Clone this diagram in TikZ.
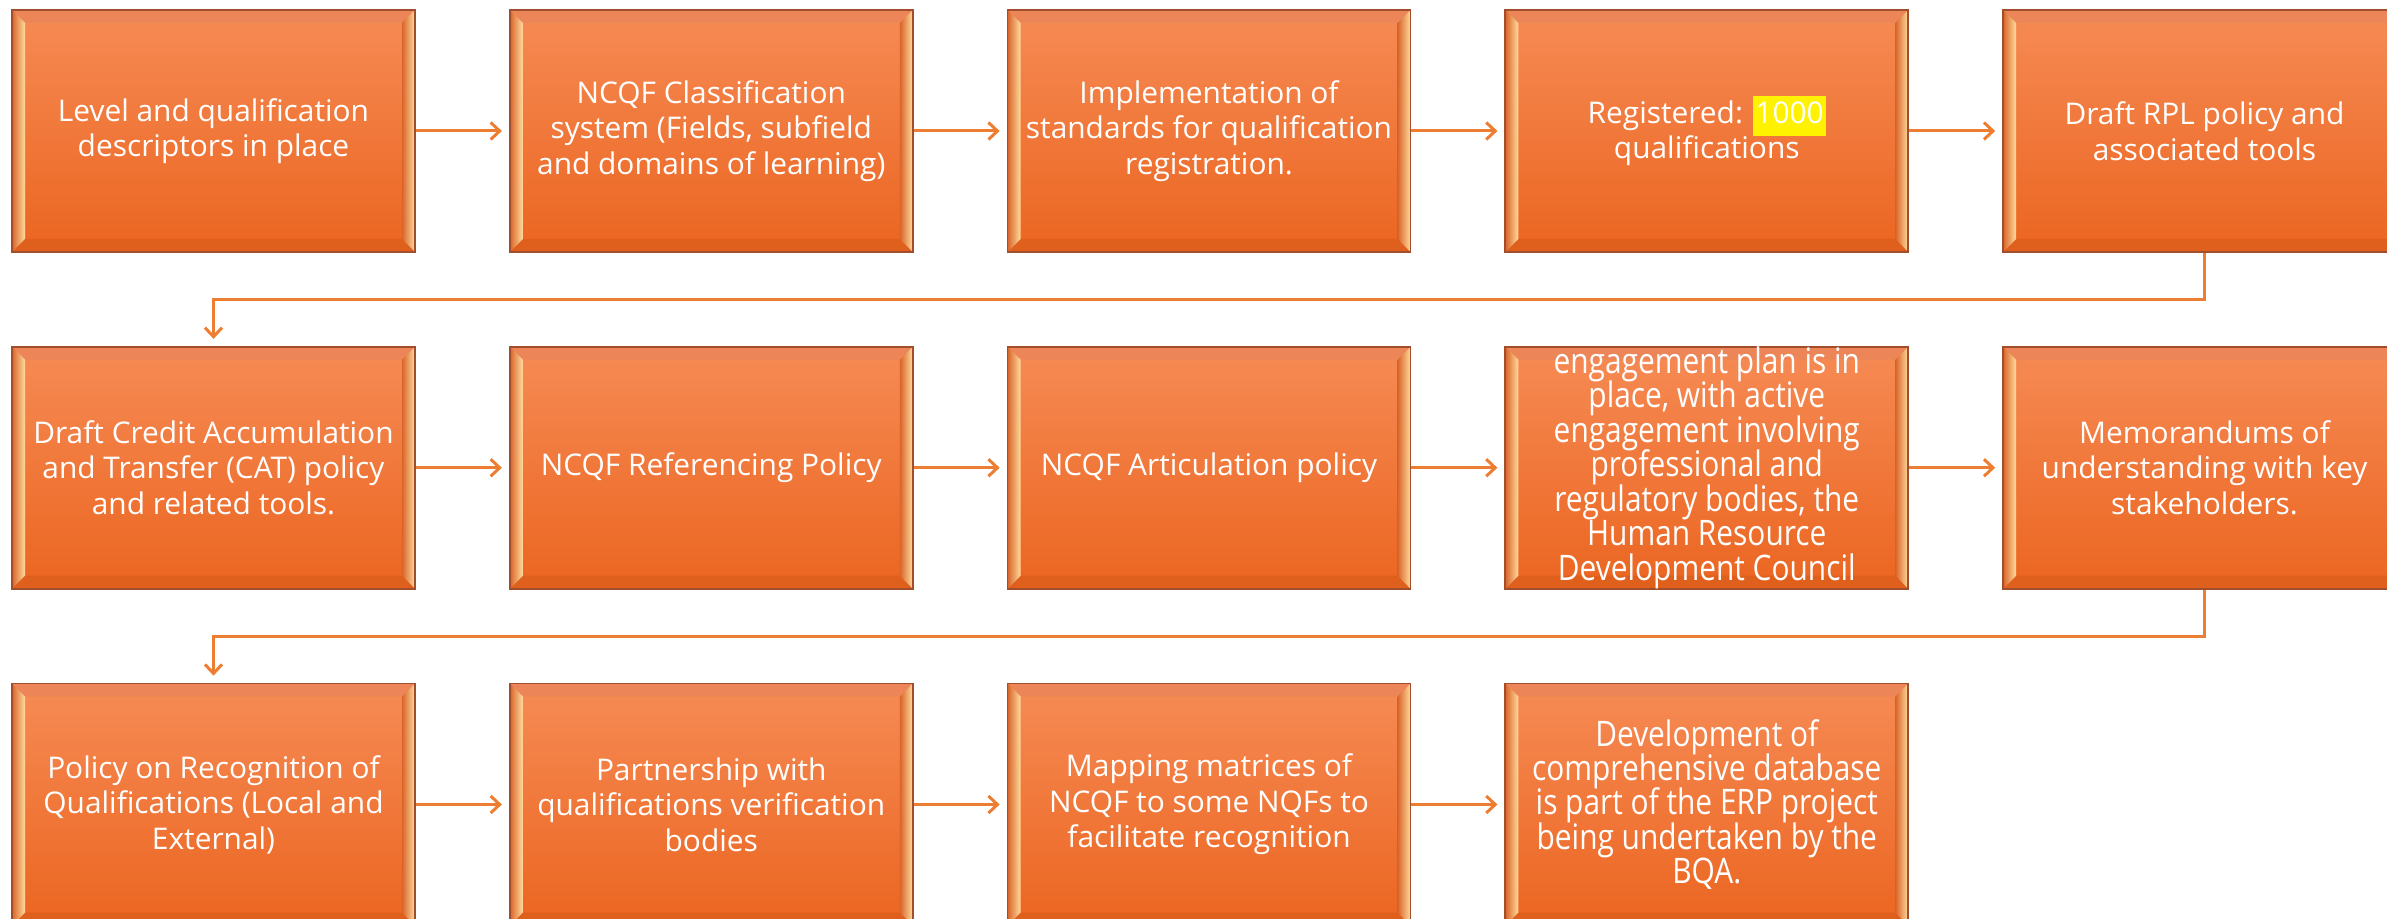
\documentclass[tikz,border=0pt]{standalone}
\usepackage{fontspec}
\usetikzlibrary{positioning,calc,arrows.meta}
\newfontfamily\boxfont{Open Sans}
\newfontfamily\narrowboxfont[FakeStretch=0.85]{Open Sans}
\definecolor{facetop}{HTML}{F68B55}
\definecolor{facebot}{HTML}{EB6520}
\definecolor{boxline}{HTML}{A04E2C}
\definecolor{bevtop}{HTML}{EC8658}
\definecolor{bevbot}{HTML}{DF5F1D}
\definecolor{bevdark}{HTML}{D9642A}
\definecolor{bevlight}{HTML}{FFDB9C}
\definecolor{arrowline}{HTML}{ED7D31}
\newcommand\tightlines{\lineskiplimit=-5pt\relax}
% text taller than the box: keep the box size fixed
\newcommand\overflowlines[1]{\parbox[c][2cm][c]{4cm}{\centering\tightlines #1}}
\tikzset{
  bevel/.style={path picture={
    \path (path picture bounding box.south west) coordinate (bsw)
          (path picture bounding box.north west) coordinate (bnw)
          (path picture bounding box.north east) coordinate (bne)
          (path picture bounding box.south east) coordinate (bse);
    \fill[bevtop] (bnw) -- (bne) -- ([shift={(-\bevw,-\bevw)}]bne) -- ([shift={(\bevw,-\bevw)}]bnw) -- cycle;
    \fill[bevbot] (bsw) -- (bse) -- ([shift={(-\bevw,\bevw)}]bse) -- ([shift={(\bevw,\bevw)}]bsw) -- cycle;
    \shade[left color=bevdark, right color=bevlight] (bsw) -- (bnw) -- ([shift={(\bevw,-\bevw)}]bnw) -- ([shift={(\bevw,\bevw)}]bsw) -- cycle;
    \shade[left color=bevdark, right color=bevlight] (bse) -- (bne) -- ([shift={(-\bevw,-\bevw)}]bne) -- ([shift={(-\bevw,\bevw)}]bse) -- cycle;
  }},
  stepbox/.style={rectangle, draw=boxline, line width=0.5pt, minimum width=4.03cm, minimum height=2.42cm,
    inner sep=0pt, align=center, text=white, top color=facetop, bottom color=facebot, bevel,
    font=\boxfont\fontsize{8.5}{10.1}\selectfont\tightlines},
  narrowtext/.style={font=\narrowboxfont\fontsize{10}{9.8}\selectfont\tightlines},
  flow/.style={draw=arrowline, line width=0.85pt, -{Straight Barb[length=0.09cm,width=0.17cm]}, shorten >=0.07cm},
}
\begin{document}
\begin{tikzpicture}
\def\bevw{0.13}
\useasboundingbox (0,0) rectangle (23.87,-9.19);

\node[stepbox] (a1) at (2.135,-1.31) {Level and qualification\\descriptors in place};
\node[stepbox, right=0.93cm of a1] (a2) {NCQF Classification\\system (Fields, subfield\\and domains of learning)};
\node[stepbox, right=0.93cm of a2] (a3) {Implementation of\\standards for qualification\\registration.};
\node[stepbox, right=0.93cm of a3] (a4) {Registered: {\setlength\fboxsep{0.6pt}\colorbox{yellow}{\strut 1000}}\\qualifications};
\node[stepbox, right=0.93cm of a4] (a5) {Draft RPL policy and\\associated tools};

\node[stepbox, below=0.93cm of a1] (b1) {Draft Credit Accumulation\\and Transfer (CAT) policy\\and related tools.};
\node[stepbox, right=0.93cm of b1] (b2) {NCQF Referencing Policy};
\node[stepbox, right=0.93cm of b2] (b3) {NCQF Articulation policy};
\node[stepbox, narrowtext, right=0.93cm of b3] (b4) {\overflowlines{engagement plan is in\\place, with active\\engagement involving\\professional and\\regulatory bodies, the\\Human Resource\\Development Council}};
\node[stepbox, right=0.93cm of b4] (b5) {Memorandums of\\understanding with key\\stakeholders.};

\node[stepbox, below=0.93cm of b1] (c1) {Policy on Recognition of\\Qualifications (Local and\\External)};
\node[stepbox, right=0.93cm of c1] (c2) {Partnership with\\qualifications verification\\bodies};
\node[stepbox, right=0.93cm of c2] (c3) {Mapping matrices of\\NCQF to some NQFs to\\facilitate recognition};
\node[stepbox, narrowtext, right=0.93cm of c3] (c4) {Development of\\comprehensive database\\is part of the ERP project\\being undertaken by the\\BQA.};

\draw[flow] (a1) -- (a2);
\draw[flow] (a2) -- (a3);
\draw[flow] (a3) -- (a4);
\draw[flow] (a4) -- (a5);
\draw[flow] (a5.south) |- ($(a5.south)!.5!(b1.north)$) -| (b1.north);
\draw[flow] (b1) -- (b2);
\draw[flow] (b2) -- (b3);
\draw[flow] (b3) -- (b4);
\draw[flow] (b4) -- (b5);
\draw[flow] (b5.south) |- ($(b5.south)!.5!(c1.north)$) -| (c1.north);
\draw[flow] (c1) -- (c2);
\draw[flow] (c2) -- (c3);
\draw[flow] (c3) -- (c4);
\end{tikzpicture}
\end{document}
